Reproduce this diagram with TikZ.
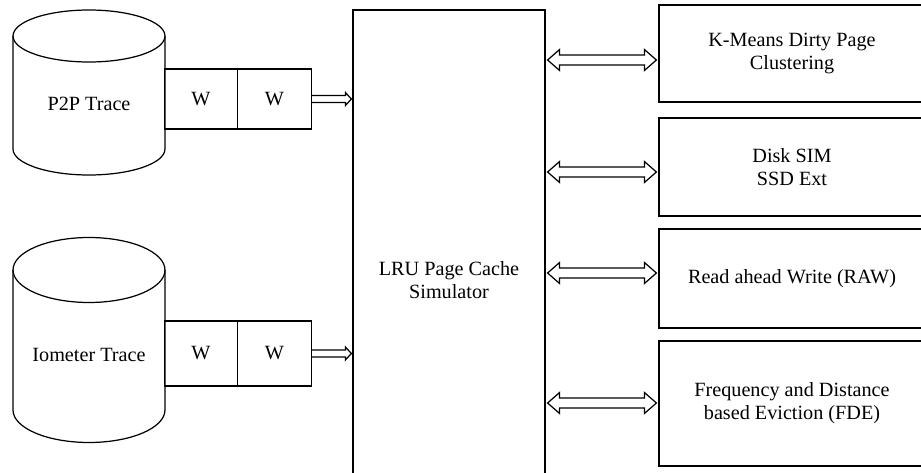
\documentclass[tikz,border=0pt]{standalone}
\usepackage{fontspec}
\setmainfont{Liberation Serif}
\usetikzlibrary{calc}
% hollow block arrows between two named points (horizontal)
\newcommand{\dblarrow}[2]{%
  \draw (#1) -- ($(#1)+(12,10.5)$) -- ($(#1)+(12,5)$) -- ($(#2)+(-12,5)$)
    -- ($(#2)+(-12,10.5)$) -- (#2) -- ($(#2)+(-12,-10.5)$) -- ($(#2)+(-12,-5)$)
    -- ($(#1)+(12,-5)$) -- ($(#1)+(12,-10.5)$) -- cycle;}
\newcommand{\sglarrow}[2]{%
  \draw (#1) ++(0,3.4) -- ($(#2)+(-6,3.4)$) -- ($(#2)+(-6,6.5)$) -- (#2)
    -- ($(#2)+(-6,-6.5)$) -- ($(#2)+(-6,-3.4)$) -- ($(#1)+(0,-3.4)$);}
\begin{document}
\begin{tikzpicture}[x=0.02cm, y=-0.02cm, line width=0.7pt,
    font=\fontsize{11.5}{13}\selectfont,
    box/.style={draw, rectangle, align=center, inner sep=0pt},
    wbox/.style={box, minimum width=1.47cm}]
  \useasboundingbox (0,0) rectangle (921,473);
  \clip (0,0) rectangle (921,473);
  % traces
  \draw (13,36) -- (13,149)
    arc[start angle=180, end angle=360, x radius=1.52cm, y radius=0.52cm] -- (165,36);
  \draw (89,36) ellipse [x radius=1.52cm, y radius=0.52cm];
  \draw (13,270) -- (13,410)
    arc[start angle=180, end angle=360, x radius=1.52cm, y radius=0.65cm] -- (165,270);
  \draw (89,270) ellipse [x radius=1.52cm, y radius=0.65cm];
  \node (p2p) at (89,104) {P2P Trace};
  \node (iom) at (89,355) {Iometer Trace};
  % write queues
  \node[wbox, minimum height=1.2cm] (w11) at (201,99) {W};
  \node[wbox, minimum height=1.2cm] (w12) at (274.5,99) {W};
  \node[wbox, minimum height=1.3cm] (w21) at (201,353.5) {W};
  \node[wbox, minimum height=1.3cm] (w22) at (274.5,353.5) {W};
  % simulator
  \node[box, minimum width=3.84cm, minimum height=10.8cm] (lru) at (449,280)
    {LRU Page Cache\\Simulator};
  % modules
  \node[box, minimum width=5.32cm, minimum height=1.94cm] (km) at (792,53.5)
    {K-Means Dirty Page\\Clustering};
  \node[box, minimum width=5.32cm, minimum height=1.96cm] (disk) at (792,167)
    {Disk SIM\\SSD Ext};
  \node[box, minimum width=5.32cm, minimum height=1.98cm] (raw) at (792,278.5)
    {Read ahead Write (RAW)};
  \node[box, minimum width=5.32cm, minimum height=2.5cm] (fde) at (792,403.5)
    {Frequency and Distance\\based Eviction (FDE)};
  % connectors
  \coordinate (in1) at ($(lru.west |- w12.east)+(-1,0)$);
  \coordinate (in2) at ($(lru.west |- w22.east)+(-1,0)$);
  \sglarrow{w12.east}{in1}
  \sglarrow{w22.east}{in2}
  \coordinate (km1) at ($(lru.east |- 0,60)+(2,0)$);
  \coordinate (km2) at ($(km.west |- 0,60)+(-2,0)$);
  \coordinate (disk1) at ($(lru.east |- 0,172)+(2,0)$);
  \coordinate (disk2) at ($(disk.west |- 0,172)+(-2,0)$);
  \coordinate (raw1) at ($(lru.east |- 0,273)+(2,0)$);
  \coordinate (raw2) at ($(raw.west |- 0,273)+(-2,0)$);
  \coordinate (fde1) at ($(lru.east |- 0,403)+(2,0)$);
  \coordinate (fde2) at ($(fde.west |- 0,403)+(-2,0)$);
  \dblarrow{km1}{km2}
  \dblarrow{disk1}{disk2}
  \dblarrow{raw1}{raw2}
  \dblarrow{fde1}{fde2}
\end{tikzpicture}
\end{document}
